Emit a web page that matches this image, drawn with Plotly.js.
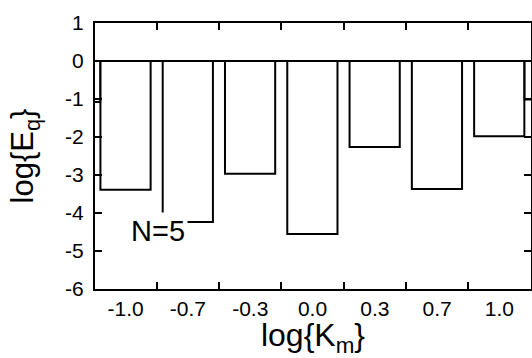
<!DOCTYPE html>
<html>
<head>
<meta charset="utf-8">
<script src="https://cdn.plot.ly/plotly-3.0.1.min.js"></script>
<style>html,body{margin:0;padding:0;background:#fff;}#chart{width:532px;height:358px;}</style>
</head>
<body>
<div id="chart"></div>
<script>
// Category labels (log K_m) and bar values (log E_q)
var categories = ["-1.0", "-0.7", "-0.3", "0.0", "0.3", "0.7", "1.0"];
var catPositions = [0, 1, 2, 3, 4, 5, 6];
var barValues = [-3.39, -4.24, -2.97, -4.55, -2.26, -3.37, -1.98];
// partially visible bars cut by the plot edges
var edgePositions = [-0.81, 6.81];
var edgeValues = [-1.08, -1.01];
var yTickVals = [-6, -5, -4, -3, -2, -1, 0, 1];
var yTickText = ["-6", "-5", "-4", "-3", "-2", "-1", "0", "1"];
// x ticks sit on category boundaries; labels are shifted back onto the bar centres
var boundaryTicks = [0.5, 1.5, 2.5, 3.5, 4.5, 5.5, 6.5];

var FONT = "Liberation Sans, Arial, sans-serif";
var xRange = [-0.49, 6.51];
var barWidth = 0.806;
var plotWidthPx = 532 - 95 - 1;
var halfCatPx = Math.round(0.5 * plotWidthPx / (xRange[1] - xRange[0]));

var traces = [
  {
    type: "bar", x: catPositions, y: barValues, base: 0,
    width: barWidth,
    marker: {color: "#ffffff", line: {color: "#000000", width: 2}},
    hoverinfo: "skip", showlegend: false
  },
  {
    type: "bar", x: edgePositions, y: edgeValues, base: 0,
    width: barWidth,
    marker: {color: "#ffffff", line: {color: "#000000", width: 2}},
    hoverinfo: "skip", showlegend: false
  }
];

var layout = {
  width: 532, height: 358,
  margin: {l: 95, r: 1, t: 23, b: 69},
  paper_bgcolor: "#ffffff", plot_bgcolor: "#ffffff",
  barmode: "overlay",
  font: {family: FONT, color: "#000000", size: 21},
  showlegend: false,
  xaxis: {
    range: xRange, tickmode: "array", tickvals: boundaryTicks, ticktext: categories,
    ticklabelshift: -halfCatPx,
    ticks: "inside", ticklen: 7, tickwidth: 2, tickcolor: "#000000",
    showline: true, linewidth: 2, linecolor: "#000000", mirror: "ticks",
    showgrid: false, zeroline: false,
    tickfont: {family: FONT, size: 21, color: "#000000"},
    title: {text: "log{K<sub>m</sub>}", font: {family: FONT, size: 32, color: "#000000"}, standoff: 12}
  },
  yaxis: {
    range: [-6, 1], tickmode: "array", tickvals: yTickVals, ticktext: yTickText,
    ticks: "inside", ticklen: 7, tickwidth: 2, tickcolor: "#000000",
    showline: true, linewidth: 2, linecolor: "#000000", mirror: "ticks",
    showgrid: false,
    zeroline: true, zerolinecolor: "#000000", zerolinewidth: 2,
    ticklabelstandoff: 5,
    tickfont: {family: FONT, size: 21, color: "#000000"},
    title: {text: "log{E<sub>q</sub>}", font: {family: FONT, size: 31, color: "#000000"}, standoff: 22}
  },
  annotations: [{
    x: 0.52, y: -4.47, xref: "x", yref: "y", text: "N=5", showarrow: false,
    font: {family: FONT, size: 29, color: "#000000"}, bgcolor: "#ffffff", borderpad: 2
  }]
};

Plotly.newPlot("chart", traces, layout, {displayModeBar: false});
</script>
</body>
</html>
